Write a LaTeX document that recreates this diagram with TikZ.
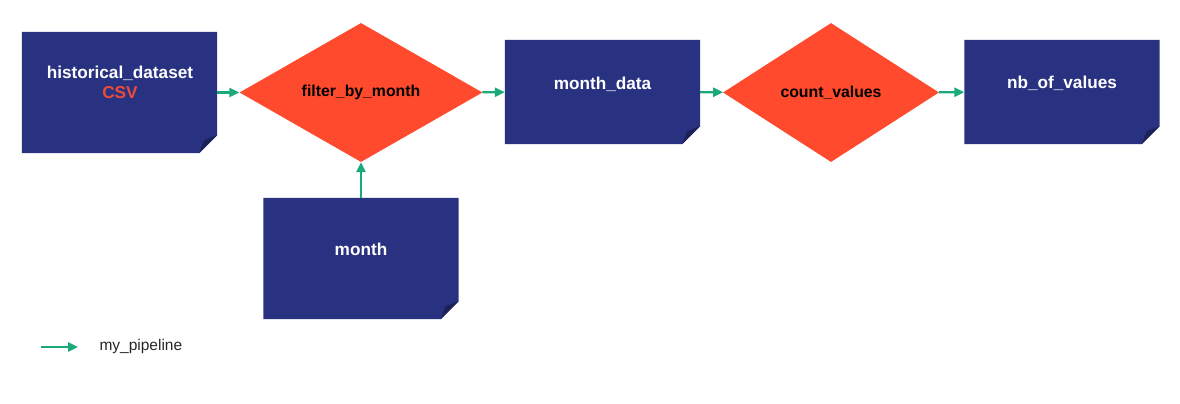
\documentclass[tikz,border=0pt]{standalone}
\usepackage{fontspec}
\setmainfont{Liberation Sans}
\usetikzlibrary{shapes.geometric,arrows.meta}
\definecolor{navy}{RGB}{41,50,128}
\definecolor{navyfold}{RGB}{28,33,88}
\definecolor{redop}{RGB}{255,74,45}
\definecolor{csvred}{RGB}{235,76,56}
\definecolor{flowgreen}{RGB}{25,169,123}
\begin{document}
\begin{tikzpicture}[x=1pt,y=-1pt,
  data/.style={rectangle,inner sep=0,minimum width=195,
    append after command={\pgfextra{\let\dnode\tikzlastnode
      \fill[navy] (\dnode.north west) -- (\dnode.north east) -- ([yshift=18]\dnode.south east) -- ([xshift=-18]\dnode.south east) -- (\dnode.south west) -- cycle;
      \fill[navyfold] ([yshift=18]\dnode.south east) -- ([xshift=-18]\dnode.south east) -- ([xshift=-13,yshift=13]\dnode.south east) -- cycle;
    }}},
  op/.style={diamond,fill=redop,inner sep=0,minimum height=139,font=\bfseries\fontsize{15.8}{18}\selectfont},
  lbl/.style={text=white,font=\bfseries\fontsize{17.2}{20}\selectfont},
  flow/.style={draw=flowgreen,line width=2.4,-{Triangle[length=10,width=9]}}]
\useasboundingbox (0,0) rectangle (1180,404);
\node[data,minimum height=121] (hist) at (119.5,92.5) {};
\node[data,minimum height=104] (mdata) at (602.5,92) {};
\node[data,minimum height=104] (nbval) at (1062,92) {};
\node[data,minimum height=121] (month) at (361,258.5) {};
\node[op,minimum width=243] (filter) at (361,92.5) {filter\_by\_month};
\node[op,minimum width=216] (count) at (831,92.5) {count\_values};
\node[lbl] (histlbl) at (120,73) {historical\_dataset};
\node[lbl,text=csvred] (csvlbl) at (120,93) {CSV};
\node[lbl] (mdatalbl) at (602.5,84) {month\_data};
\node[lbl] (nbvallbl) at (1062,83) {nb\_of\_values};
\node[lbl] (monthlbl) at (361,249) {month};
\draw[flow] (hist) -- (filter);
\draw[flow] (filter) -- (mdata);
\draw[flow] (mdata) -- (count);
\draw[flow] (count) -- (nbval);
\draw[flow] (month) -- (filter);
% legend
\coordinate (legA) at (41,347);
\coordinate (legB) at (78,347);
\draw[flow] (legA) -- (legB);
\node[anchor=west,font=\fontsize{15.5}{18}\selectfont,text=black!85] (legtxt) at (96,346) {my\_pipeline};
\end{tikzpicture}
\end{document}
